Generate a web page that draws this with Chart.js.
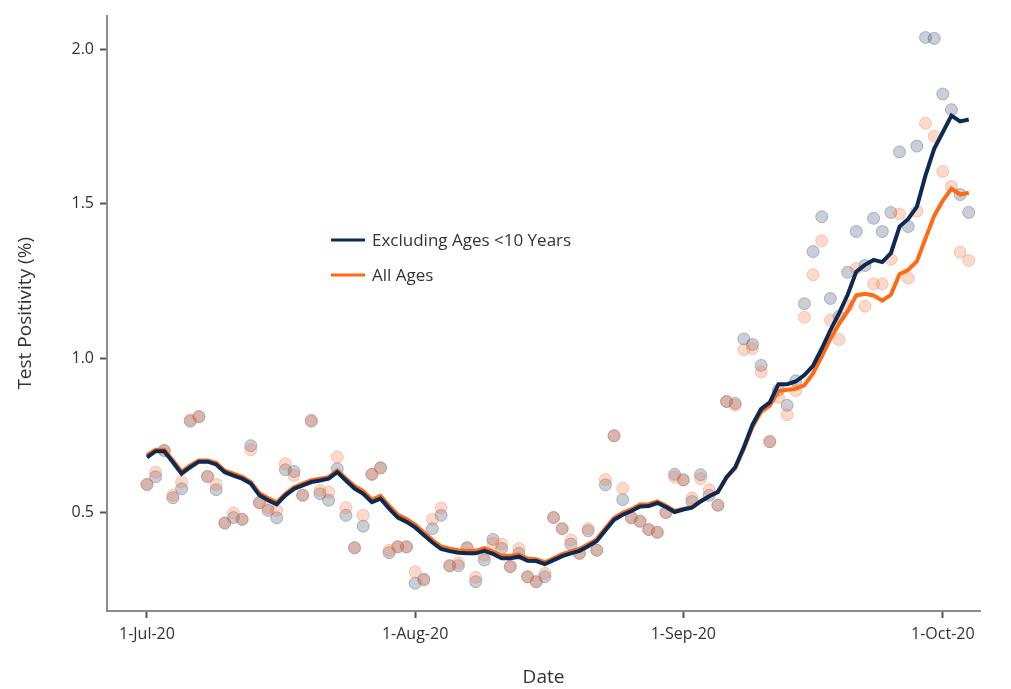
<!DOCTYPE html>
<html>
<head>
<meta charset="utf-8">
<style>
  html, body { margin: 0; padding: 0; background: #fff; }
  #wrap { width: 1011px; height: 689px; }
</style>
</head>
<body>
<div id="wrap">
  <canvas id="myChart" width="1011" height="689"></canvas>
</div>
<script src="https://cdn.jsdelivr.net/npm/chart.js"></script>
<script>

// x = days since 1-Jul-20
const tickDays = [0, 31, 62, 92];
const tickLabels = ['1-Jul-20', '1-Aug-20', '1-Sep-20', '1-Oct-20'];
const yTicks = [0.5, 1.0, 1.5, 2.0];

// daily test positivity (%), excluding ages <10
const dailyExcl = [
  0.59, 0.615, 0.70, 0.547, 0.576, 0.795, 0.81, 0.616, 0.573, 0.465,
  0.483, 0.477, 0.716, 0.531, 0.506, 0.482, 0.638, 0.632, 0.555, 0.795,
  0.56, 0.539, 0.641, 0.49, 0.385, 0.455, 0.623, 0.644, 0.369, 0.388,
  0.388, 0.27, 0.283, 0.447, 0.49, 0.327, 0.327, 0.385, 0.275, 0.345,
  0.412, 0.383, 0.324, 0.367, 0.291, 0.275, 0.291, 0.483, 0.447, 0.397,
  0.367, 0.44, 0.377, 0.589, 0.748, 0.541, 0.482, 0.471, 0.444, 0.435,
  0.499, 0.623, 0.605, 0.535, 0.622, 0.555, 0.523, 0.859, 0.853, 1.062,
  1.044, 0.976, 0.729, 0.896, 0.847, 0.926, 1.176, 1.345, 1.458, 1.193,
  1.135, 1.278, 1.41, 1.30, 1.453, 1.41, 1.472, 1.668, 1.426, 1.687,
  2.039, 2.036, 1.856, 1.805, 1.53, 1.472
];

// daily test positivity (%), all ages
const dailyAll = [
  0.59, 0.63, 0.70, 0.555, 0.598, 0.80, 0.81, 0.616, 0.59, 0.465,
  0.498, 0.477, 0.703, 0.531, 0.515, 0.506, 0.657, 0.619, 0.555, 0.80,
  0.571, 0.565, 0.679, 0.515, 0.385, 0.49, 0.623, 0.644, 0.377, 0.388,
  0.388, 0.307, 0.28, 0.477, 0.514, 0.327, 0.336, 0.385, 0.289, 0.361,
  0.40, 0.397, 0.324, 0.383, 0.291, 0.275, 0.302, 0.483, 0.447, 0.41,
  0.367, 0.447, 0.377, 0.606, 0.748, 0.578, 0.482, 0.471, 0.444, 0.435,
  0.499, 0.614, 0.605, 0.546, 0.609, 0.573, 0.523, 0.859, 0.847, 1.027,
  1.031, 0.955, 0.729, 0.872, 0.816, 0.894, 1.132, 1.27, 1.38, 1.123,
  1.06, 1.17, 1.29, 1.168, 1.24, 1.24, 1.32, 1.467, 1.259, 1.476,
  1.761, 1.719, 1.605, 1.557, 1.343, 1.316
];

// rolling averages (lines)
const avgExcl = [
  0.678, 0.698, 0.698, 0.662, 0.625, 0.646, 0.664, 0.664, 0.655, 0.630,
  0.619, 0.609, 0.593, 0.555, 0.539, 0.526, 0.555, 0.576, 0.587, 0.598,
  0.603, 0.609, 0.630, 0.603, 0.577, 0.560, 0.533, 0.544, 0.512, 0.483,
  0.469, 0.451, 0.426, 0.402, 0.381, 0.374, 0.369, 0.367, 0.367, 0.375,
  0.365, 0.351, 0.351, 0.356, 0.343, 0.342, 0.332, 0.345, 0.358, 0.367,
  0.375, 0.390, 0.407, 0.442, 0.476, 0.492, 0.504, 0.519, 0.520, 0.530,
  0.517, 0.501, 0.509, 0.515, 0.535, 0.552, 0.566, 0.614, 0.646, 0.711,
  0.784, 0.835, 0.856, 0.915, 0.915, 0.924, 0.945, 0.975, 1.030, 1.090,
  1.145, 1.205, 1.280, 1.302, 1.318, 1.311, 1.340, 1.426, 1.451, 1.490,
  1.592, 1.678, 1.732, 1.786, 1.767, 1.773
];

const avgAll = [
  0.685, 0.703, 0.703, 0.668, 0.632, 0.652, 0.668, 0.668, 0.660, 0.635,
  0.625, 0.615, 0.598, 0.562, 0.546, 0.532, 0.560, 0.581, 0.593, 0.604,
  0.609, 0.614, 0.636, 0.610, 0.585, 0.569, 0.541, 0.553, 0.521, 0.492,
  0.478, 0.460, 0.435, 0.410, 0.389, 0.382, 0.377, 0.375, 0.375, 0.384,
  0.373, 0.359, 0.359, 0.363, 0.350, 0.348, 0.338, 0.351, 0.364, 0.373,
  0.381, 0.396, 0.413, 0.448, 0.482, 0.498, 0.510, 0.525, 0.526, 0.535,
  0.521, 0.504, 0.511, 0.517, 0.536, 0.553, 0.566, 0.612, 0.643, 0.706,
  0.777, 0.826, 0.846, 0.893, 0.897, 0.900, 0.912, 0.950, 1.005, 1.062,
  1.110, 1.152, 1.203, 1.208, 1.203, 1.186, 1.205, 1.272, 1.286, 1.313,
  1.388, 1.461, 1.510, 1.549, 1.530, 1.536
];

function toPoints(arr) {
  return arr.map(function(v, i) { return { x: i, y: v }; });
}

const navy = '#0d2a55';
const orange = '#ff6a13';
const textColor = '#333333';
const axisColor = '#8c8c8c';
const fontFamily = '"Open Sans", sans-serif';

const datasets = [
  {
    label: 'Excluding Ages <10 Years',
    data: toPoints(avgExcl),
    borderColor: navy,
    backgroundColor: navy,
    borderWidth: 4,
    pointRadius: 0,
    tension: 0,
    order: 1
  },
  {
    label: 'All Ages',
    data: toPoints(avgAll),
    borderColor: orange,
    backgroundColor: orange,
    borderWidth: 4,
    pointRadius: 0,
    tension: 0,
    order: 2
  },
  {
    label: 'daily all',
    data: toPoints(dailyAll),
    showLine: false,
    pointRadius: 6,
    pointBorderWidth: 1,
    pointBackgroundColor: 'rgba(245,120,70,0.28)',
    pointBorderColor: 'rgba(245,120,70,0.35)',
    order: 3
  },
  {
    label: 'daily excl',
    data: toPoints(dailyExcl),
    showLine: false,
    pointRadius: 6,
    pointBorderWidth: 1,
    pointBackgroundColor: 'rgba(60,80,110,0.28)',
    pointBorderColor: 'rgba(60,80,110,0.35)',
    order: 4
  }
];

// legend drawn inside the plot area
const innerLegend = {
  id: 'innerLegend',
  afterDraw(chart) {
    const ctx = chart.ctx;
    const area = chart.chartArea;
    const x0 = area.left + 224;
    const ys = [240, 275];
    ctx.save();
    ctx.font = '17px ' + fontFamily;
    ctx.textBaseline = 'middle';
    ctx.textAlign = 'left';
    [0, 1].forEach(function(k) {
      const ds = chart.data.datasets[k];
      ctx.strokeStyle = ds.borderColor;
      ctx.lineWidth = 3;
      ctx.beginPath();
      ctx.moveTo(x0, ys[k]);
      ctx.lineTo(x0 + 34, ys[k]);
      ctx.stroke();
      ctx.fillStyle = textColor;
      ctx.fillText(ds.label, x0 + 41, ys[k] + 1);
    });
    ctx.restore();
  }
};

const config = {
  type: 'line',
  data: { datasets: datasets },
  options: {
    responsive: false,
    animation: false,
    layout: { padding: { top: 12, right: 31, left: 0, bottom: 0 } },
    plugins: {
      legend: { display: false },
      tooltip: { enabled: false }
    },
    scales: {
      x: {
        type: 'linear',
        min: -4.62,
        max: 96.3,
        afterBuildTicks: function(scale) {
          scale.ticks = tickDays.map(function(v) { return { value: v }; });
        },
        afterFit: function(scale) { scale.height = 78; },
        ticks: {
          color: textColor,
          font: { family: fontFamily, size: 16 },
          padding: 7,
          maxRotation: 0,
          autoSkip: false,
          callback: function(value) {
            const i = tickDays.indexOf(value);
            return i >= 0 ? tickLabels[i] : '';
          }
        },
        grid: {
          drawOnChartArea: false,
          drawTicks: true,
          tickLength: 7,
          tickWidth: 2,
          color: '#555'
        },
        border: { display: true, color: axisColor, width: 2 },
        title: {
          display: true,
          text: 'Date',
          color: textColor,
          font: { family: fontFamily, size: 19 },
          padding: { top: 16, bottom: 0 }
        }
      },
      y: {
        type: 'linear',
        min: 0.18,
        max: 2.11,
        afterBuildTicks: function(scale) {
          scale.ticks = yTicks.map(function(v) { return { value: v }; });
        },
        afterFit: function(scale) { scale.width = 107; },
        ticks: {
          color: textColor,
          font: { family: fontFamily, size: 16 },
          padding: 6,
          callback: function(value) { return value.toFixed(1); }
        },
        grid: {
          drawOnChartArea: false,
          drawTicks: true,
          tickLength: 7,
          tickWidth: 2,
          color: '#555'
        },
        border: { display: true, color: axisColor, width: 2 },
        title: {
          display: true,
          text: 'Test Positivity (%)',
          color: textColor,
          font: { family: fontFamily, size: 19 },
          padding: { top: 14, bottom: 8 }
        }
      }
    }
  },
  plugins: [innerLegend]
};

new Chart('myChart', config);

</script>
</body>
</html>
